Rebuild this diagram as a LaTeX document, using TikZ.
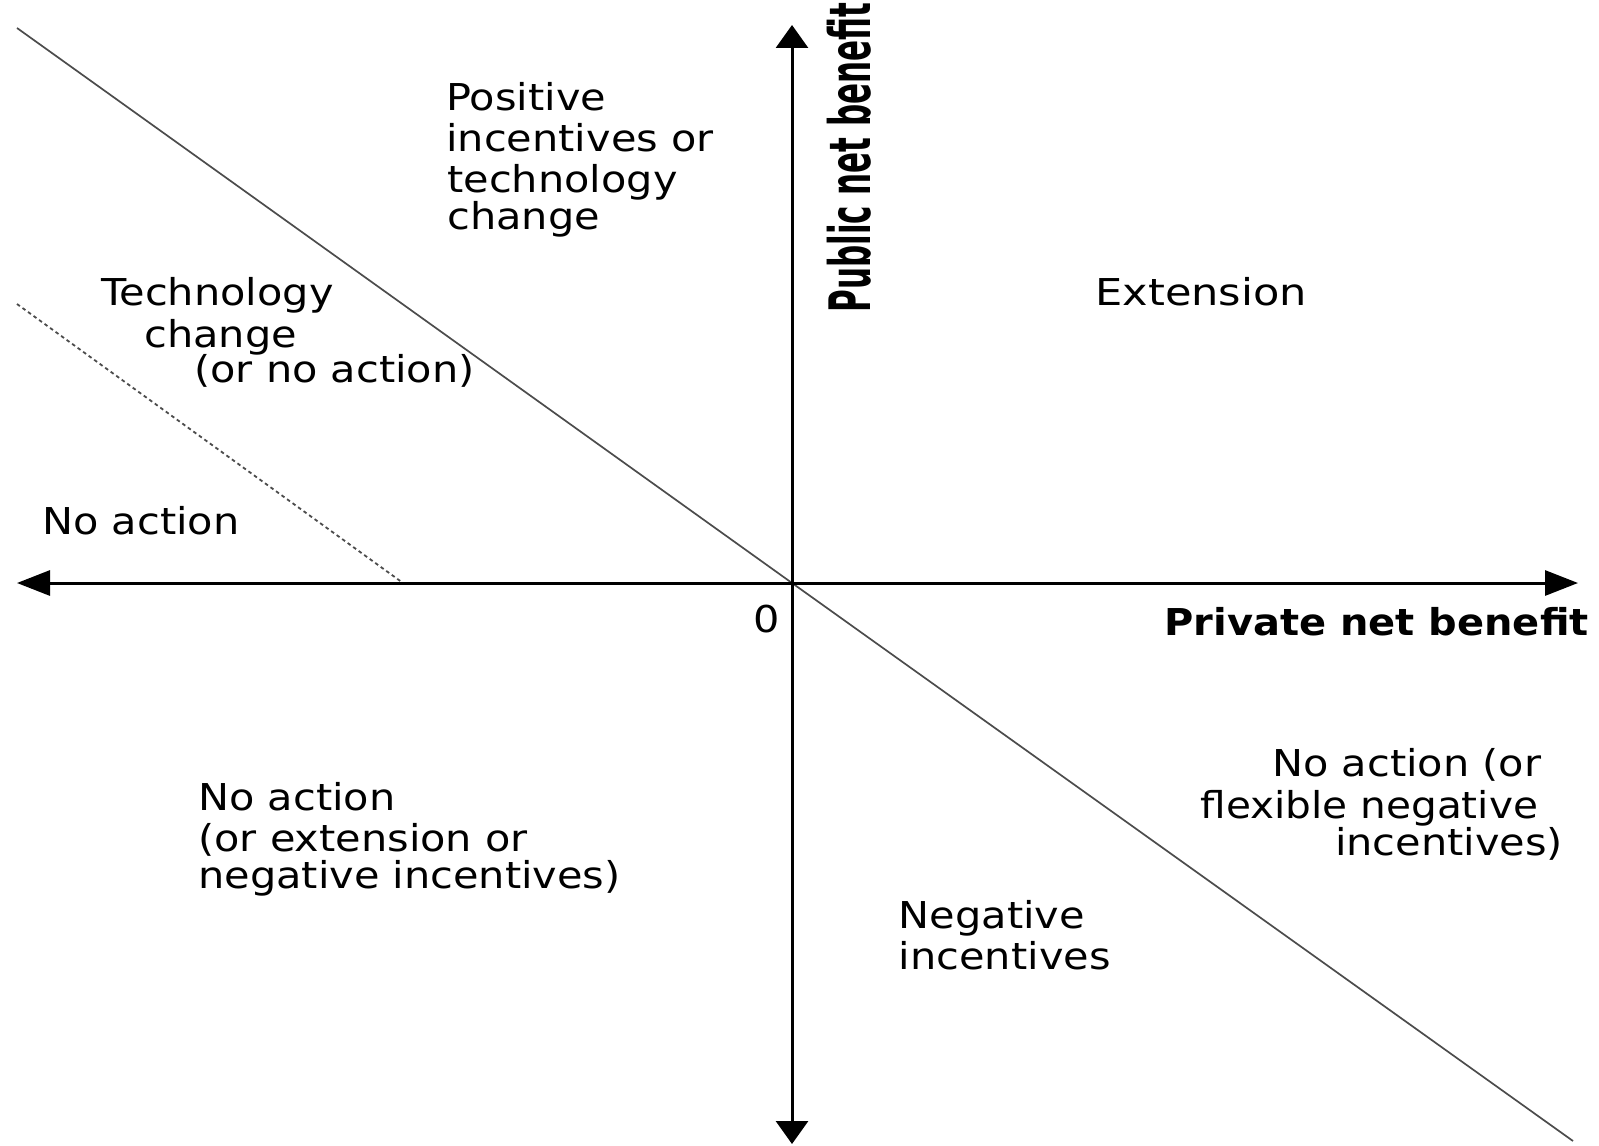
\documentclass[tikz,border=0pt]{standalone}
\usepackage{fontspec}
\setmainfont{DejaVu Sans}[FakeStretch=1.12]
\newfontfamily\haxisfont{DejaVu Sans}[FakeStretch=1.08]
\newfontfamily\vaxisfont{DejaVu Sans}
\usetikzlibrary{arrows.meta}

\begin{document}
\begin{tikzpicture}[x=0.5pt, y=-0.5pt,
  region/.style={anchor=base west, inner sep=0pt, text=black,
                 font=\fontsize{18.5}{22}\selectfont},
  haxislabel/.style={anchor=base west, inner sep=0pt,
                 font=\haxisfont\bfseries\fontsize{18.5}{22}\selectfont},
  vaxislabel/.style={anchor=base west, inner sep=0pt, rotate=90,
                 font=\vaxisfont\bfseries\fontsize{15.2}{18}\selectfont},
  axisline/.style={line width=1.5pt, draw=black},
  boundary/.style={line width=0.85pt, draw=black!70},
  threshold/.style={line width=0.9pt, draw=black!70, dash pattern=on 1.8pt off 1.6pt}]

% canvas
\fill[white] (0,0) rectangle (1599,1145);
\useasboundingbox (0,0) rectangle (1599,1145);

% reference points
\coordinate (O)   at (792,583);
\coordinate (xl)  at (17,583);
\coordinate (xr)  at (1578,583);
\coordinate (yt)  at (792,25);
\coordinate (yb)  at (792,1144);
\coordinate (b1)  at (17,28);
\coordinate (b2)  at (1573,1141);
\coordinate (t1)  at (17,304);
\coordinate (t2)  at (403,583);

% zero-sum boundary and threshold line
\draw[boundary]  (b1) -- (O) -- (b2);
\draw[threshold] (t1) -- (t2);

% axes
\draw[axisline, {Triangle[length=16.5pt, width=12.5pt]}-{Triangle[length=16.5pt, width=12.5pt]}] (xl) -- (xr);
\draw[axisline, {Triangle[length=11.5pt, width=16pt]}-{Triangle[length=11.5pt, width=16pt]}] (yt) -- (yb);

% axis labels
\node[haxislabel] (privlab) at (1164,635) {Private net benefit};
\node[vaxislabel] (publab) at (870,313) {\scalebox{1.02}[1.88]{Public net benefit}};
\node[region] (zero) at (753,632) {0};

% regions
\node[region] (pos1) at (446,110.7) {Positive};
\node[region] (pos2) at (446,151.7) {incentives or};
\node[region] (pos3) at (447,192.7) {technology};
\node[region] (pos4) at (447,229.3) {change};

\node[region] (tec1) at (101,305) {Technology};
\node[region] (tec2) at (144,347.3) {change};
\node[region] (tec3) at (194,382.7) {(or no action)};

\node[region] (noact) at (42,534) {No action};

\node[region] (ext) at (1095,305) {\scalebox{1.04}[1]{Extension}};

\node[region] (nw1) at (198,810.7) {No action};
\node[region] (nw2) at (198,851.7) {(or extension or};
\node[region] (nw3) at (198,888.3) {negative incentives)};

\node[region] (neg1) at (898.5,928.3) {Negative};
\node[region] (neg2) at (898.5,969.3) {incentives};

\node[region] (se1) at (1272,776.7) {No action (or};
\node[region] (se2) at (1200,818.3) {\scalebox{0.98}[1]{flexible negative}};
\node[region] (se3) at (1334.6,855) {incentives)};

\end{tikzpicture}
\end{document}
